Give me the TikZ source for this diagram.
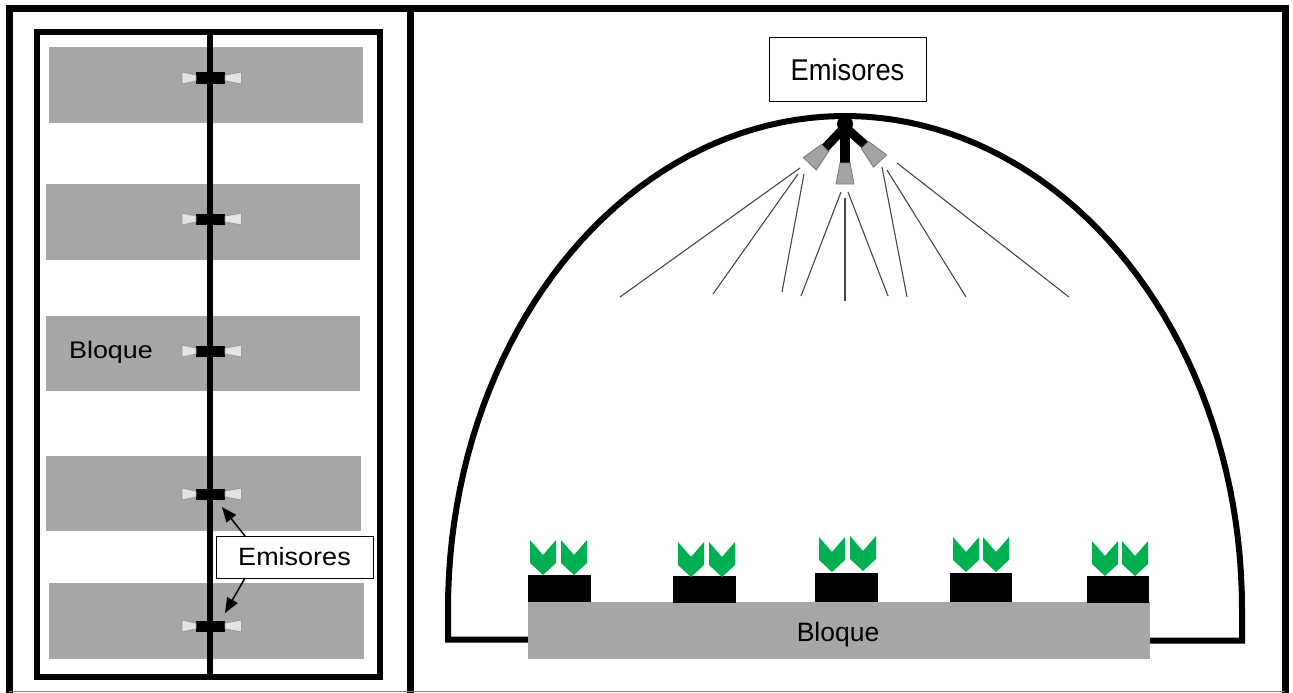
\documentclass[tikz,border=0pt]{standalone}
\usepackage{fontspec}
\setmainfont{Liberation Sans}
\usetikzlibrary{arrows.meta}
\definecolor{blockgray}{HTML}{A6A6A6}
\definecolor{leafgreen}{HTML}{00B050}
\definecolor{conelight}{HTML}{E4E4E4}
\definecolor{coneedge}{HTML}{9A9A9A}
\definecolor{nozzle}{HTML}{A3A3A3}
\definecolor{nozzleedge}{HTML}{7F7F7F}
\tikzset{
  frame/.style={line width=7pt, line join=miter},
  blockbox/.style={fill=blockgray, inner sep=0pt, outer sep=0pt},
  barbox/.style={fill=black, inner sep=0pt, outer sep=0pt, minimum width=29pt, minimum height=11pt},
  cone/.style={fill=conelight, draw=coneedge, line width=0.9pt},
  labelbox/.style={draw=black, fill=white, line width=1pt, inner sep=0pt, outer sep=0pt},
  arr/.style={line width=1.5pt, -{Triangle[length=15pt,width=12pt]}},
  spray/.style={line width=1.1pt, black!72},
  pot/.style={fill=black, inner sep=0pt, outer sep=0pt, minimum width=63pt, minimum height=27pt},
  leaf/.style={fill=leafgreen},
  nozzlebody/.style={fill=nozzle, draw=nozzleedge, line width=0.9pt},
  emitter/.pic={
    \node[barbox] (-bar) at (0,0) {};
    \filldraw[cone] (-28.5,-6) -- (-14.5,-3) -- (-14.5,3) -- (-28.5,6) -- cycle;
    \filldraw[cone] (14.5,-3) -- (31,-6) -- (31,6) -- (14.5,3) -- cycle;
  },
  chevron/.pic={
    \fill[leaf] (0,0) -- (13,15) -- (26,0) -- (26,23) -- (13,35) -- (0,23) -- cycle;
  }
}
\begin{document}
\begin{tikzpicture}[x=1pt,y=-1pt]
\useasboundingbox (0,0) rectangle (1293,693);

% ---------- plan view ----------
\node[blockbox, minimum width=314pt, minimum height=76pt] (b1) at (206,85) {};
\node[blockbox, minimum width=314pt, minimum height=76pt] (b2) at (203,222) {};
\node[blockbox, minimum width=314pt, minimum height=75pt] (b3) at (203,353.5) {};
\node[blockbox, minimum width=315pt, minimum height=75pt] (b4) at (203.5,493.5) {};
\node[blockbox, minimum width=315pt, minimum height=76pt] (b5) at (206.5,621) {};

\node[anchor=base] (bl) at (111,358) {\fontsize{24}{28}\selectfont\scalebox{1.12}[1]{Bloque}};

% inner frame and main pipe
\draw[line width=6pt] (36.5,32) rectangle (379.5,676.5);
\draw[line width=6pt] (210,32) -- (210,676.5);

% emitters along the pipe
\pic (e1) at (210.5,78) {emitter};
\pic (e2) at (210.5,219) {emitter};
\pic (e3) at (210.5,351) {emitter};
\pic (e4) at (210.5,494) {emitter};
\pic (e5) at (210.5,626) {emitter};

% callout
\node[labelbox, minimum width=157pt, minimum height=42pt] (lab) at (294.5,557)
  {\fontsize{25}{29}\selectfont\scalebox{1.08}[1]{Emisores}};
\draw[arr] ([xshift=29pt]lab.north west) -- ([xshift=-3pt,yshift=-7.5pt]e4-bar.south east);
\draw[arr] ([xshift=29pt]lab.south west) -- ([yshift=7.5pt]e5-bar.north east);

% ---------- cross section ----------
% greenhouse dome
\draw[line width=6pt, line join=miter]
  (528,639.5) -- (448,639.5) -- (448,609)
  -- plot[domain=180:360, samples=90] ({845+397*cos(\x)},{609+493*sin(\x)})
  -- (1242,640.5) -- (1150,640.5);

% spray lines
\draw[spray] (800,168) -- (620,297);
\draw[spray] (798,174) -- (713,294);
\draw[spray] (804,174) -- (782,292);
\draw[spray] (841,192) -- (801,296);
\draw[spray] (845,198) -- (845,301);
\draw[spray] (848,192) -- (888,296);
\draw[spray] (882,167) -- (907,297);
\draw[spray] (887,170) -- (966,297);
\draw[spray] (897,163) -- (1069,297);

% overhead emitter cluster
\fill (845,124) circle[radius=8pt];
\draw[line width=10pt] (845,122) -- (845,164);
\draw[line width=9pt] (845,127) -- (825,148);
\draw[line width=9pt] (845,127) -- (865,145);
\filldraw[nozzlebody] (840,163) -- (850,163) -- (854,184) -- (836,184) -- cycle;
\filldraw[nozzlebody] (828.6,151.5) -- (821.4,144.5) -- (803.3,157.6) -- (816.3,170) -- cycle;
\filldraw[nozzlebody] (868.7,141.6) -- (861.3,148.4) -- (873.4,167.1) -- (886.6,154.9) -- cycle;

\node[labelbox, minimum width=157pt, minimum height=63pt] (top) at (847.5,69.5)
  {\fontsize{30}{34}\selectfont\scalebox{0.91}[1]{Emisores}};

% bench
\node[blockbox, minimum width=622pt, minimum height=57pt] (bq) at (839,630.5) {};
\node[anchor=base] (bqt) at (838,641) {\fontsize{26.5}{30}\selectfont Bloque};

% pots
\node[pot] (p1) at (559.5,588.5) {};
\node[pot] (p2) at (704.5,589) {};
\node[pot, minimum height=29pt] (p3) at (846.5,587.5) {};
\node[pot, minimum width=62pt, minimum height=29pt] (p4) at (981,587.5) {};
\node[pot, minimum width=62pt] (p5) at (1118,589) {};

% seedlings
\pic at (530,540) {chevron};
\pic at (561,540) {chevron};
\pic at (678,542) {chevron};
\pic at (709,542) {chevron};
\pic at (819,537) {chevron};
\pic at (850,536) {chevron};
\pic at (953,537) {chevron};
\pic at (983,537) {chevron};
\pic at (1092,541) {chevron};
\pic at (1122,541) {chevron};

% outer panels
\draw[frame] (9,700) -- (9,9) -- (410,9) -- (410,700);
\draw[frame] (410,9) -- (1285,9) -- (1285,700);
\draw[gray, line width=1pt] (9,691.5) -- (1285,691.5);
\end{tikzpicture}
\end{document}
